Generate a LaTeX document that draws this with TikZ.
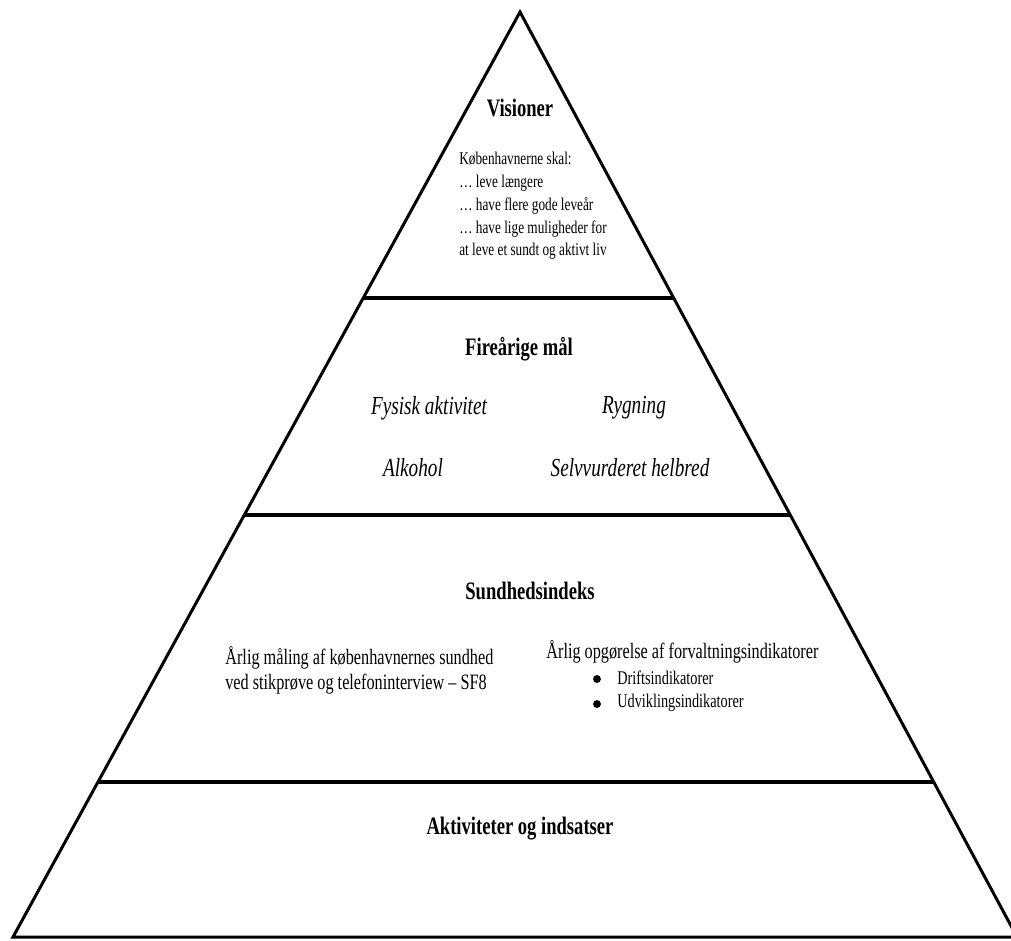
\documentclass[tikz,border=0pt]{standalone}
\usepackage{fontspec}
\setmainfont[FakeStretch=0.74]{Liberation Serif}
\usetikzlibrary{positioning,calc}

\begin{document}
\begin{tikzpicture}
	[x=0.02cm,y=-0.02cm,
	side/.style={line width=1.7pt,line join=miter},
	tier/.style={line width=2.2pt},
	heading/.style={inner sep=0pt,font=\fontsize{14.3}{17}\selectfont\bfseries},
	vision/.style={inner sep=0pt,anchor=west,align=left,font=\fontsize{10.2}{13}\selectfont},
	goal/.style={inner sep=0pt,font=\fontsize{14.8}{17}\selectfont\itshape},
	index/.style={inner sep=0pt,anchor=west,align=left,font=\fontsize{12.5}{14.2}\selectfont},
	item/.style={inner sep=0pt,anchor=west,font=\fontsize{11}{14}\selectfont},
	dot/.style={circle,fill,inner sep=0pt,minimum size=4.5pt}]
	\useasboundingbox (0,0) rectangle (1011,940);
	\coordinate (apex) at (520,12);
	\coordinate (baseL) at (13,937);
	\coordinate (baseR) at (1017,937);
	\draw[side] (baseL) -- (apex) -- (baseR) -- cycle;
	% tier borders
	\coordinate (cutAl) at ($(apex)!0.309!(baseL)$);
	\coordinate (cutAr) at ($(apex)!0.309!(baseR)$);
	\coordinate (cutBl) at ($(apex)!0.5438!(baseL)$);
	\coordinate (cutBr) at ($(apex)!0.5438!(baseR)$);
	\coordinate (cutCl) at ($(apex)!0.8324!(baseL)$);
	\coordinate (cutCr) at ($(apex)!0.8324!(baseR)$);
	\draw[tier] (cutAl) -- (cutAr);
	\draw[tier] (cutBl) -- (cutBr);
	\draw[tier] (cutCl) -- (cutCr);
	% top tier
	\node[heading] (vis) at (520,108) {Visioner};
	\node[vision]  (visTxt) at (459,206) {Københavnerne skal:\\… leve længere\\… have flere gode leveår\\… have lige muligheder for\\at leve et sundt og aktivt liv};
	% second tier
	\node[heading] (maal) at (519,349) {Fireårige mål};
	\node[goal]    (fys) at (429,408) {Fysisk aktivitet};
	\node[goal]    (ryg) at (634,408) {Rygning};
	\node[goal]    (alk) at (413,468) {Alkohol};
	\node[goal]    (selv) at (630,468) {Selvvurderet helbred};
	% third tier
	\node[heading] (idx) at (530,591) {Sundhedsindeks};
	\node[index]   (maaling) at (225,670) {Årlig måling af københavnernes sundhed\\ved stikprøve og telefoninterview – SF8};
	\node[index]   (opg) at (546,652) {Årlig opgørelse af forvaltningsindikatorer};
	\node[dot]     (dot1) at (597,679) {};
	\node[item]    (drift) at (617,678) {Driftsindikatorer};
	\node[dot]     (dot2) at (597,704) {};
	\node[item]    (udv) at (617,703) {Udviklingsindikatorer};
	% bottom tier
	\node[heading] (akt) at (520,829) {Aktiviteter og indsatser};
\end{tikzpicture}
\end{document}
